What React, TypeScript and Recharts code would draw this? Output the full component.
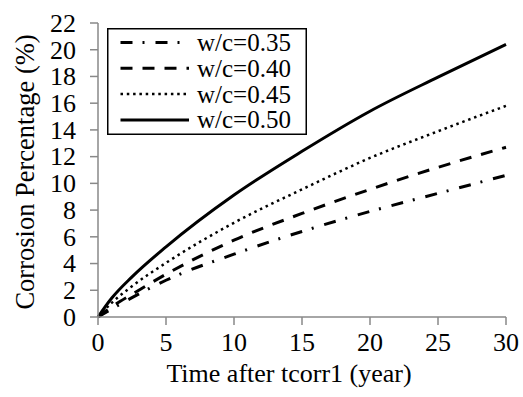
import React from 'react';
import { LineChart, Line, XAxis, YAxis, Legend } from 'recharts';

// years after tcorr1
const years = [0, 1, 2.5, 5, 10, 15, 20, 25, 30];

// corrosion percentage (%) per w/c ratio
const wc035 = [0, 0.6, 1.45, 2.75, 4.7, 6.4, 7.9, 9.25, 10.6];
const wc040 = [0, 0.75, 1.7, 3.2, 5.75, 7.75, 9.55, 11.2, 12.7];
const wc045 = [0, 1.05, 2.3, 4.05, 7.05, 9.55, 11.9, 13.9, 15.8];
const wc050 = [0, 1.4, 3.0, 5.25, 9.13, 12.4, 15.4, 17.95, 20.4];

const xTicks = [0, 5, 10, 15, 20, 25, 30];
const yTicks = [0, 2, 4, 6, 8, 10, 12, 14, 16, 18, 20, 22];

const FONT = '"Liberation Serif", "Times New Roman", serif';

const series = [
  { key: 'wc035', name: 'w/c=0.35', dash: '12 10 2 11', width: 3 },
  { key: 'wc040', name: 'w/c=0.40', dash: '12 10', width: 3 },
  { key: 'wc045', name: 'w/c=0.45', dash: '2.5 3.8', width: 2.5 },
  { key: 'wc050', name: 'w/c=0.50', dash: undefined, width: 3 },
];

const data = years.map((t, i) => ({
  t,
  wc035: wc035[i],
  wc040: wc040[i],
  wc045: wc045[i],
  wc050: wc050[i],
}));

const LegendBox = () => (
  <svg width={200} height={107} style={{ display: 'block' }}>
    <rect x={0.75} y={0.75} width={198.5} height={105.5} fill="#fff" stroke="#000" strokeWidth={1.5} />
    {series.map((s, i) => {
      const cy = 14.5 + i * 25.8;
      return (
        <g key={s.key}>
          <line x1={13.5} x2={82} y1={cy} y2={cy} stroke="#000" strokeWidth={s.width} strokeDasharray={s.dash} />
          <text x={90} y={cy + 8.5} fontFamily={FONT} fontSize={25} fill="#000">
            {s.name}
          </text>
        </g>
      );
    })}
  </svg>
);

// tick text drawn by hand so the serif font and spacing are exact
const renderXTick = (props: any) => (
  <text
    key={`x-${props.index}`}
    x={props.x}
    y={props.y + 6}
    dy="0.71em"
    textAnchor="middle"
    style={{ fontFamily: FONT, fontSize: 26 }}
    fill="#000"
  >
    {props.payload.value}
  </text>
);

const renderYTick = (props: any) => (
  <text
    key={`y-${props.index}`}
    x={props.x - 12}
    y={props.y}
    dy="0.34em"
    textAnchor="end"
    style={{ fontFamily: FONT, fontSize: 26 }}
    fill="#000"
  >
    {props.payload.value}
  </text>
);

export default function App() {
  return (
    <div style={{ position: 'absolute', left: 0, top: 0, background: '#fff' }}>
      <LineChart width={523} height={397} data={data} margin={{ top: 23, right: 17, bottom: 0, left: 0 }}>
        <XAxis
          xAxisId="main"
          dataKey="t"
          type="number"
          domain={[0, 30]}
          ticks={xTicks}
          interval={0}
          height={80}
          tickSize={8}
          tick={renderXTick}
          axisLine={{ stroke: '#888', strokeWidth: 1.5 }}
          tickLine={{ stroke: '#888', strokeWidth: 1.5 }}
          label={{
            content: () => (
              <text x={289} y={382} textAnchor="middle" fontFamily={FONT} fontSize={26} fill="#000">
                Time after tcorr1 (year)
              </text>
            ),
          }}
        />
        <XAxis
          xAxisId="top"
          orientation="top"
          dataKey="t"
          type="number"
          domain={[0, 30]}
          height={0}
          tick={false}
          tickLine={false}
          axisLine={{ stroke: '#000', strokeWidth: 1.5 }}
        />
        <YAxis
          yAxisId="main"
          type="number"
          domain={[0, 22]}
          ticks={yTicks}
          interval={0}
          width={98}
          tickSize={8}
          tick={renderYTick}
          axisLine={{ stroke: '#888', strokeWidth: 1.5 }}
          tickLine={{ stroke: '#888', strokeWidth: 1.5 }}
          label={{
            content: () => (
              <text
                x={34}
                y={172}
                transform="rotate(-90 34 172)"
                textAnchor="middle"
                fontFamily={FONT}
                fontSize={26.5}
                fill="#000"
              >
                Corrosion Percentage (%)
              </text>
            ),
          }}
        />
        <YAxis
          yAxisId="right"
          orientation="right"
          type="number"
          domain={[0, 22]}
          width={0}
          tick={false}
          tickLine={false}
          axisLine={{ stroke: '#000', strokeWidth: 1.5 }}
        />
        {series.map((s) => (
          <Line
            key={s.key}
            xAxisId="main"
            yAxisId="main"
            type="monotone"
            dataKey={s.key}
            name={s.name}
            stroke="#000"
            strokeWidth={s.width}
            strokeDasharray={s.dash}
            dot={false}
            activeDot={false}
            isAnimationActive={false}
          />
        ))}
        <Legend
          layout="horizontal"
          verticalAlign="middle"
          align="center"
          content={() => <LegendBox />}
          wrapperStyle={{ position: 'absolute', left: 107, top: 28, width: 200, height: 107 }}
        />
      </LineChart>
    </div>
  );
}
